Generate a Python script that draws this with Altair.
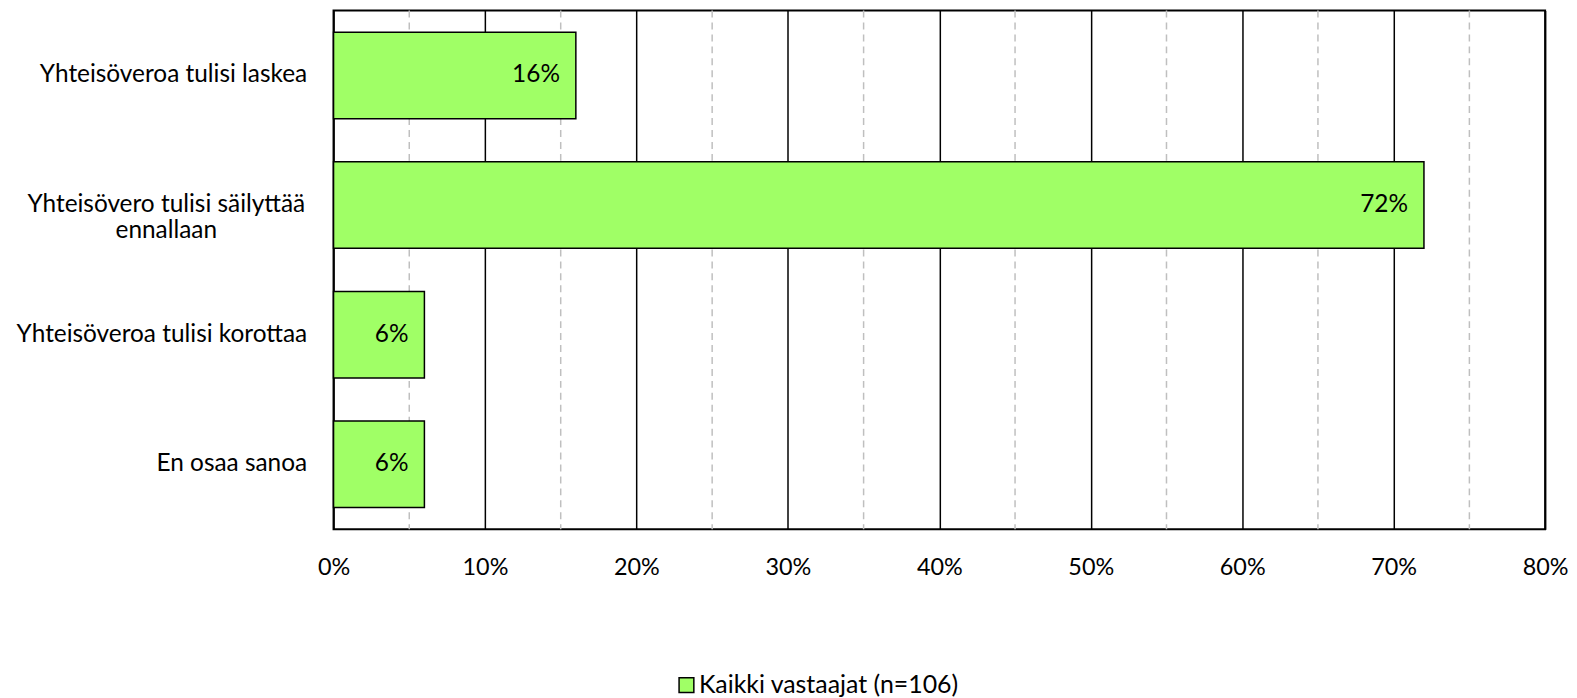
import altair as alt
import pandas as pd

categories = [
    "Yhteisöveroa tulisi laskea",
    "Yhteisövero tulisi säilyttää ennallaan",
    "Yhteisöveroa tulisi korottaa",
    "En osaa sanoa",
]
values = [0.16, 0.72, 0.06, 0.06]
value_labels = ["16%", "72%", "6%", "6%"]
wrapped_label = "Yhteisövero tulisi säilyttää\nennallaan"
series_name = "Kaikki vastaajat (n=106)"
major_ticks = [0, 0.1, 0.2, 0.3, 0.4, 0.5, 0.6, 0.7, 0.8]
minor_ticks = [0.05, 0.15, 0.25, 0.35, 0.45, 0.55, 0.65, 0.75]

FONT = "Lato"
FS = 24.5
GREEN = "#a0ff66"

df = pd.DataFrame({"cat": categories, "val": values, "lab": value_labels, "series": series_name})
wrap_df = pd.DataFrame({"cat": [categories[1]], "disp": [wrapped_label]})
minor_df = pd.DataFrame({"v": minor_ticks})

label_expr = "datum.value == '" + categories[1] + "' ? '' : datum.value"

y_enc = alt.Y("cat:N", sort=categories, title=None,
              scale=alt.Scale(paddingInner=0.333, paddingOuter=0.1667),
              axis=alt.Axis(labelExpr=label_expr, ticks=False, domain=False,
                            labelPadding=27, labelAlign="right",
                            labelFont=FONT, labelFontSize=FS,
                            labelColor="black", labelLimit=500))
x_scale = alt.Scale(domain=[0, 0.8], nice=False)

minor = alt.Chart(minor_df).mark_rule(color="#bfbfbf", strokeWidth=1.5, strokeDash=[7, 5]).encode(
    x=alt.X("v:Q", scale=x_scale)
)

bars = alt.Chart(df).mark_bar(stroke="black", strokeWidth=1.5).encode(
    y=y_enc,
    x=alt.X("val:Q", scale=x_scale, title=None,
            axis=alt.Axis(values=major_ticks, format=".0%", grid=True, gridColor="black",
                          gridWidth=1.5, ticks=False, domain=False, labelPadding=26,
                          labelFlush=False, labelOverlap=False,
                          labelFont=FONT, labelFontSize=23.5, labelColor="black")),
    color=alt.Color("series:N", scale=alt.Scale(range=[GREEN]), title=None,
                    legend=alt.Legend(orient="none", legendX=342, legendY=665,
                                      symbolType="square", symbolSize=220, labelOffset=0,
                                      symbolStrokeColor="black", symbolStrokeWidth=1.5,
                                      symbolOpacity=1,
                                      labelFont=FONT, labelFontSize=25, labelColor="black",
                                      labelLimit=500)),
)

text = alt.Chart(df).mark_text(align="right", baseline="middle", dx=-16, font=FONT,
                               fontSize=FS, color="black").encode(
    y=alt.Y("cat:N", sort=categories),
    x=alt.X("val:Q", scale=x_scale),
    text="lab:N",
)

wrapped = alt.Chart(wrap_df).mark_text(align="center", baseline="middle", lineBreak="\n",
                                       lineHeight=26, font=FONT, fontSize=FS,
                                       color="black").encode(
    y=alt.Y("cat:N", sort=categories),
    x=alt.value(-168),
    text="disp:N",
)

chart = alt.layer(minor, bars, text, wrapped).properties(
    width=1217, height=521, background="white",
    autosize=alt.AutoSizeParams(type="none"),
    padding={"left": 327, "top": 1, "right": 24, "bottom": 170},
).configure_view(stroke="black", strokeWidth=2)

chart.save("out.html", embed_options={"renderer": "svg", "actions": False})
